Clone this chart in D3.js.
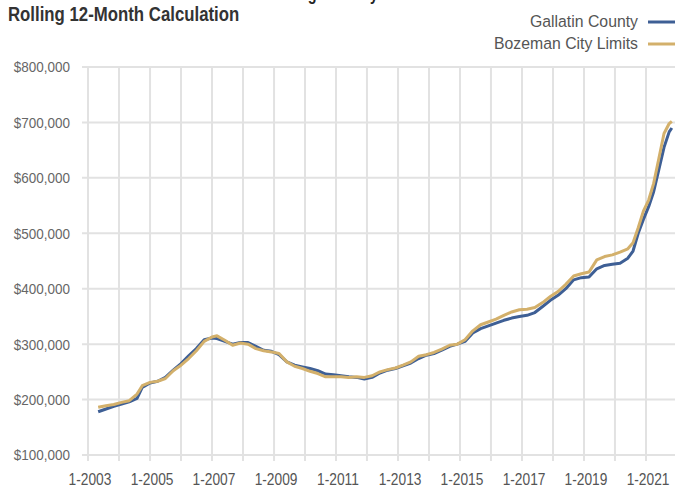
<!DOCTYPE html>
<html>
<head>
<meta charset="utf-8">
<script src="https://cdn.jsdelivr.net/npm/d3@7"></script>
<style>
  body { margin: 0; background: #fff; }
  svg { display: block; overflow: hidden; }
  text { font-family: "Liberation Sans", Arial, sans-serif; }
</style>
</head>
<body>
<svg id="canvas" width="675" height="489"></svg>
<script>
// months shared by both series (values in $ thousands)
const months = [
  "2003-05","2003-08","2003-11","2004-02","2004-05","2004-08","2004-10",
  "2005-01","2005-04","2005-07","2005-10","2006-01","2006-04","2006-07","2006-10",
  "2007-01","2007-03","2007-06","2007-09","2007-12","2008-03","2008-06","2008-09","2008-12",
  "2009-03","2009-06","2009-09","2009-12","2010-03","2010-06","2010-09","2010-12",
  "2011-03","2011-06","2011-09","2011-12","2012-03","2012-06","2012-09","2012-12",
  "2013-03","2013-06","2013-09","2013-12","2014-03","2014-06","2014-09","2014-12",
  "2015-03","2015-06","2015-09","2015-12","2016-03","2016-06","2016-09","2016-12",
  "2017-03","2017-06","2017-09","2017-12","2018-03","2018-06","2018-09","2018-12",
  "2019-03","2019-06","2019-09","2019-12","2020-03","2020-06","2020-08","2020-10","2020-12",
  "2021-02","2021-04","2021-06","2021-08","2021-10","2021-11"
];

const gallatin = [
  178,183,188,192,196,202,222,
  230,233,240,253,265,279,292,308,
  311,310,305,300,303,303,296,289,287,
  281,268,262,259,256,252,246,245,
  243,241,240,237,240,248,253,256,
  261,266,274,280,283,289,296,300,
  305,320,328,333,338,343,347,350,
  352,357,368,379,388,400,416,420,
  421,436,442,444,446,455,468,500,525,
  548,575,615,655,683,690
];

const bozeman = [
  186,189,191,195,198,210,225,
  231,233,238,252,262,274,288,305,
  313,315,307,298,302,300,292,288,286,
  283,268,260,256,251,247,241,241,
  241,240,241,240,243,250,254,257,
  262,268,278,281,285,291,298,300,
  308,324,335,340,345,352,358,362,
  363,366,375,386,395,408,423,427,
  430,452,458,461,466,472,483,510,540,
  560,590,635,680,698,702
];

const seriesNames = ["Gallatin County", "Bozeman City Limits"];
const seriesColors = ["#3e5f95", "#d3b06b"];
const yTicks = [100, 200, 300, 400, 500, 600, 700, 800];
const xLabelYears = [2003, 2005, 2007, 2009, 2011, 2013, 2015, 2017, 2019, 2021];

const parseMonth = d3.timeParse("%Y-%m");
const canvas = d3.select("#canvas");

const plotLeft = 88, plotRight = 677, plotTop = 67, plotBottom = 455;

const xScale = d3.scaleTime()
  .domain([new Date(2003, 0, 1), new Date(2022, 0, 1)])
  .range([plotLeft, plotRight]);

const yScale = d3.scaleLinear()
  .domain([100, 800])
  .range([plotBottom, plotTop]);

const money = (d) => "$" + d3.format(",")(d * 1000);

// the source font is condensed, so squeeze text horizontally
const squish = (x, y, s) => `translate(${x},${y}) scale(${s},1)`;

// heading above the subtitle, cut off by the top edge in the source
canvas.append("text")
  .attr("transform", squish(378, 0, 0.8))
  .attr("text-anchor", "end")
  .attr("font-size", 18)
  .attr("font-weight", "bold")
  .attr("fill", "#222")
  .text("Median Sales Price - Single Family");

canvas.append("text")
  .attr("transform", squish(8, 21, 0.84))
  .attr("font-size", 20)
  .attr("font-weight", "bold")
  .attr("fill", "#333")
  .text("Rolling 12-Month Calculation");

// grid lines
const years = d3.range(2003, 2023).map((y) => new Date(y, 0, 1));

canvas.append("g")
  .selectAll("line")
  .data(years)
  .enter()
  .append("line")
  .attr("x1", (d) => xScale(d))
  .attr("x2", (d) => xScale(d))
  .attr("y1", plotTop)
  .attr("y2", plotBottom + 6)
  .attr("stroke", "#e2e2e2")
  .attr("stroke-width", 2);

canvas.append("g")
  .selectAll("line")
  .data(yTicks)
  .enter()
  .append("line")
  .attr("x1", plotLeft - 6)
  .attr("x2", plotRight)
  .attr("y1", (d) => yScale(d))
  .attr("y2", (d) => yScale(d))
  .attr("stroke", "#e2e2e2")
  .attr("stroke-width", 2);

// y labels
canvas.append("g")
  .selectAll("text")
  .data(yTicks)
  .enter()
  .append("text")
  .attr("transform", (d) => squish(70, yScale(d), 0.9))
  .attr("dy", "0.36em")
  .attr("text-anchor", "end")
  .attr("font-size", 15)
  .attr("fill", "#666")
  .text(money);

// x labels
canvas.append("g")
  .selectAll("text")
  .data(xLabelYears)
  .enter()
  .append("text")
  .attr("transform", (d) => squish(xScale(new Date(d, 0, 1)) + 2, 485, 0.86))
  .attr("text-anchor", "middle")
  .attr("font-size", 16)
  .attr("fill", "#555")
  .text((d) => "1-" + d);

// lines
const line = d3.line()
  .x((d) => xScale(d.date))
  .y((d) => yScale(d.value));

[gallatin, bozeman].forEach((values, i) => {
  const pts = months.map((m, j) => ({ date: parseMonth(m), value: values[j] }));
  canvas.append("path")
    .datum(pts)
    .attr("d", line)
    .attr("fill", "none")
    .attr("stroke", seriesColors[i])
    .attr("stroke-width", 3)
    .attr("stroke-linejoin", "round");
});

// legend
const legend = canvas.append("g");
seriesNames.forEach((name, i) => {
  const y = 21 + i * 22;
  legend.append("text")
    .attr("transform", squish(638, y + 6, 0.93))
    .attr("text-anchor", "end")
    .attr("font-size", 17)
    .attr("fill", "#555")
    .text(name);
  legend.append("line")
    .attr("x1", 648)
    .attr("x2", 676)
    .attr("y1", y + 1)
    .attr("y2", y + 1)
    .attr("stroke", seriesColors[i])
    .attr("stroke-width", 3);
});
</script>
</body>
</html>
